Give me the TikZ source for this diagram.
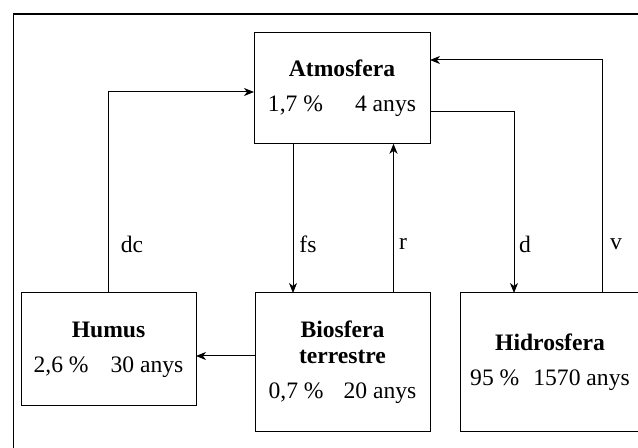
\documentclass[tikz,border=0pt]{standalone}
\usepackage{fontspec}
\setmainfont{Liberation Serif}
\usetikzlibrary{arrows.meta}
\begin{document}
\begin{tikzpicture}[x=0.5pt,y=-0.5pt,
  reservoir/.style={draw,line width=0.5pt,inner sep=0pt,outer sep=0pt,align=center,
    font=\fontsize{11.8}{13}\selectfont},
  flow/.style={line width=0.5pt,-{Stealth[length=5pt,width=4pt,inset=1.5pt]}},
  flowlabel/.style={font=\fontsize{11.8}{13}\selectfont,inner sep=0pt}]
\useasboundingbox (0,0) rectangle (638,448);
% outer frame (runs past the right and bottom edges)
\draw[line width=0.9pt] (13.5,460) |- (650,14);

% reservoirs
\node[reservoir,minimum width=88pt,minimum height=55.75pt] (atm) at (342,88)
  {\textbf{Atmosfera}\\[4.5pt]1,7 \%\hspace{16pt}4 anys};
\node[reservoir,minimum width=87.5pt,minimum height=56.5pt] (hum) at (108.5,349.5)
  {\textbf{Humus}\\[4.5pt]2,6 \%\hspace{11pt}30 anys};
\node[reservoir,minimum width=87.5pt,minimum height=69.5pt] (bio) at (342.5,362.5)
  {\textbf{Biosfera}\\\textbf{terrestre}\\[4.5pt]0,7 \%\hspace{10pt}20 anys};
\node[reservoir,minimum width=90pt,minimum height=69.5pt] (hid) at (550,362.5)
  {\textbf{Hidrosfera}\\[4.5pt]95 \%\hspace{7pt}1570 anys};

% fluxes
\draw[flow] (hum.north) |- ([yshift=-2pt]atm.west);
\draw[flow] ([xshift=-24.5pt]atm.south) -- ([xshift=-24.5pt]atm.south |- bio.north);
\draw[flow] ([xshift=25.5pt]bio.north) -- ([xshift=25.5pt]bio.north |- atm.south);
\draw[flow] ([yshift=-12pt]atm.east) -| ([xshift=-18pt]hid.north);
\draw[flow] ([xshift=26pt]hid.north) |- ([yshift=14pt]atm.east);
\draw[flow] ([yshift=3.25pt]bio.west) -- ([yshift=3.25pt]bio.west -| hum.east);

% flux labels
\node[flowlabel] (ldc) at (132,244) {dc};
\node[flowlabel] (lfs) at (308,244) {fs};
\node[flowlabel] (lr) at (403,244) {r};
\node[flowlabel] (ld) at (525,244) {d};
\node[flowlabel] (lv) at (616,244) {v};
\end{tikzpicture}
\end{document}
